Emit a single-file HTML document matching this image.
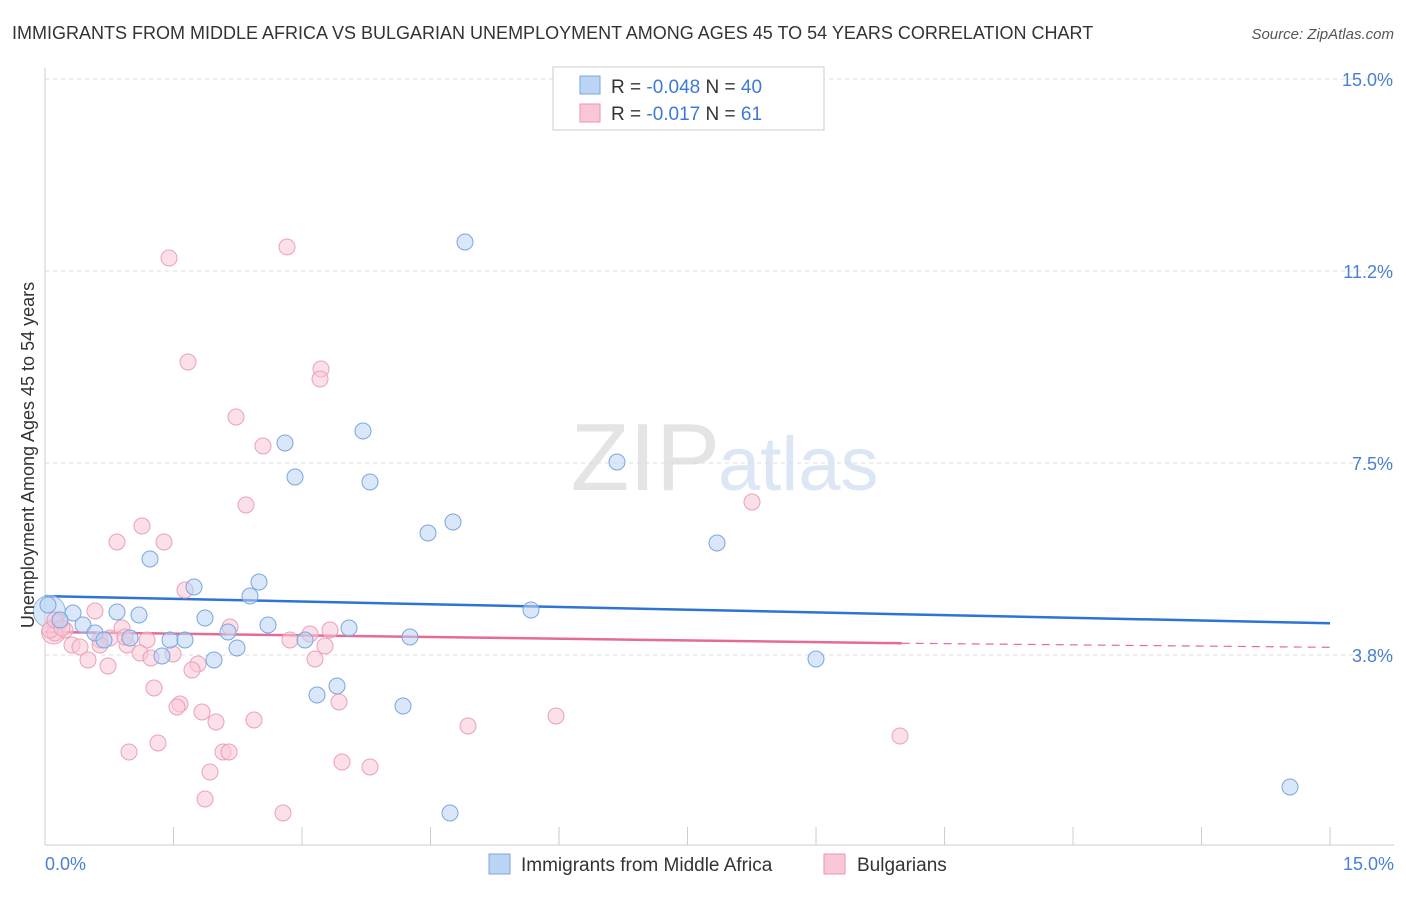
<!DOCTYPE html>
<html><head><meta charset="utf-8"><style>
body{margin:0;background:#fff;font-family:"Liberation Sans",sans-serif}
svg text{font-family:"Liberation Sans",sans-serif}
</style></head><body>
<svg id="chart" width="1406" height="892" viewBox="0 0 1406 892" xmlns="http://www.w3.org/2000/svg">
<text x="12" y="39" font-size="18" fill="#333">IMMIGRANTS FROM MIDDLE AFRICA VS BULGARIAN UNEMPLOYMENT AMONG AGES 45 TO 54 YEARS CORRELATION CHART</text>
<text x="1394" y="39" font-size="15" fill="#555" font-style="italic" text-anchor="end">Source: ZipAtlas.com</text>
<text x="720" y="490" font-size="96" fill="#e4e4e4" text-anchor="end" font-family="Liberation Serif">ZIP</text>
<text x="718" y="490" font-size="76" fill="#dce6f4">atlas</text>
<g id="grid"></g><g id="axes"></g><g id="trend"></g><g id="pts"></g>
<text transform="translate(34,455) rotate(-90)" font-size="18" fill="#333" text-anchor="middle">Unemployment Among Ages 45 to 54 years</text>
<text x="45" y="870" font-size="18" fill="#4a7fd4">0.0%</text>
<text x="1394" y="870" font-size="18" fill="#4a7fd4" text-anchor="end">15.0%</text>
<g>
<rect x="553" y="67" width="271" height="63" fill="#fff" stroke="#ccc"/>
<rect x="580" y="76" width="20" height="18" fill="#bcd4f4" stroke="#7aa6e0"/>
<rect x="580" y="104" width="20" height="18" fill="#f9c6d6" stroke="#eb95b2"/>
<text x="611" y="93" font-size="19" fill="#333">R = <tspan fill="#3f78d8">-0.048</tspan>   N = <tspan fill="#3f78d8">40</tspan></text>
<text x="611" y="120" font-size="19" fill="#333">R =  <tspan fill="#3f78d8">-0.017</tspan>   N =  <tspan fill="#3f78d8">61</tspan></text>
</g>
<g>
<rect x="489" y="854" width="21" height="20" fill="#bcd4f4" stroke="#7aa6e0"/>
<text x="521" y="871" font-size="19" fill="#333">Immigrants from Middle Africa</text>
<rect x="824" y="854" width="21" height="20" fill="#f9c6d6" stroke="#eb95b2"/>
<text x="857" y="871" font-size="19" fill="#333">Bulgarians</text>
</g>
</svg>
<script>
const yTicks=[3.75,7.5,11.25,15];
const yTickLabels=["3.8%","7.5%","11.2%","15.0%"];
const xTicks=[0,1.5,3,4.5,6,7.5,9,10.5,12,13.5,15];
const bluePx=[[465,242],[617,462],[363,431],[285,443],[295,477],[370,482],[428,533],[453,522],[717,543],[150,559],[194,587],[259,582],[250,596],[531,610],[205,618],[268,625],[117,612],[139,615],[73,613],[60,620],[83,625],[95,633],[104,640],[130,638],[170,640],[185,640],[228,632],[237,648],[349,628],[305,640],[410,637],[162,656],[214,660],[816,659],[337,686],[317,695],[403,706],[450,813],[1290,787],[48,605]];
const pinkPx=[[169,258],[287,247],[188,362],[321,369],[320,379],[236,417],[263,446],[246,505],[752,502],[142,526],[117,542],[164,542],[185,590],[95,611],[122,628],[60,622],[65,630],[55,633],[72,645],[80,647],[100,640],[110,638],[88,660],[108,666],[127,645],[147,640],[140,653],[151,658],[173,654],[198,664],[192,670],[310,634],[330,630],[325,646],[315,659],[154,688],[180,704],[177,707],[202,712],[216,722],[254,720],[339,702],[468,726],[556,716],[900,736],[129,752],[158,743],[223,752],[229,752],[210,772],[342,762],[370,767],[205,799],[283,813],[50,630],[55,620],[230,627],[125,637],[62,628],[290,640],[100,645]];
// convert reading to data units
const X0=45,XS=85.67,Y0=847,YS=51.2;
const blueX=bluePx.map(p=>(p[0]-X0)/XS), blueY=bluePx.map(p=>(Y0-p[1])/YS);
const pinkX=pinkPx.map(p=>(p[0]-X0)/XS), pinkY=pinkPx.map(p=>(Y0-p[1])/YS);
const blueTrend=[[0,4.9],[15,4.37]];
const pinkTrend=[[0,4.2],[10,3.98],[15,3.9]];
function sx(v){return X0+v*XS}
function sy(v){return Y0-v*YS}
const NS="http://www.w3.org/2000/svg";
function mk(t,a,parent){const e=document.createElementNS(NS,t);for(const k in a)e.setAttribute(k,a[k]);document.getElementById(parent).appendChild(e);return e;}
yTicks.forEach((v,i)=>{
 const l=mk('line',{x1:45,x2:1394,y1:sy(v),y2:sy(v),stroke:'#ddd','stroke-dasharray':'4,4'},'grid');
 
 
 const t=mk('text',{x:1393,y:sy(v)+7,'font-size':18,fill:'#4a7fd4','text-anchor':'end'},'grid');
 t.textContent=yTickLabels[i];
 
 
});
const ax=mk('line',{x1:45,x2:1394,y1:845,y2:845,stroke:'#ccc'},'axes');


const ay=mk('line',{x1:45,x2:45,y1:68,y2:845,stroke:'#ccc'},'axes');


xTicks.forEach(v=>{
 const l=mk('line',{x1:sx(v),x2:sx(v),y1:827,y2:845,stroke:'#ccc'},'axes');
 
 
});
const bt=mk('line',{x1:sx(blueTrend[0][0]),y1:sy(blueTrend[0][1]),x2:sx(blueTrend[1][0]),y2:sy(blueTrend[1][1]),stroke:'#2f73d4','stroke-width':2.5},'trend');


const pt=mk('line',{x1:sx(pinkTrend[0][0]),y1:sy(pinkTrend[0][1]),x2:sx(pinkTrend[1][0]),y2:sy(pinkTrend[1][1]),stroke:'#e66a96','stroke-width':2.5},'trend');


const pd=mk('line',{x1:sx(pinkTrend[1][0]),y1:sy(pinkTrend[1][1]),x2:sx(pinkTrend[2][0]),y2:sy(pinkTrend[2][1]),stroke:'#e66a96','stroke-width':1.2,'stroke-dasharray':'8,6'},'trend');


const big1=mk('circle',{cx:sx(0.05),cy:sy(4.6),r:16,fill:'rgba(188,212,244,0.55)',stroke:'#8fb4e6'},'pts');


const big2=mk('circle',{cx:sx(0.1),cy:sy(4.2),r:12,fill:'rgba(249,198,214,0.55)',stroke:'#eba0ba'},'pts');


pinkX.forEach((x,i)=>{
 const c=mk('circle',{cx:sx(x),cy:sy(pinkY[i]),r:8,fill:'rgba(249,198,214,0.55)',stroke:'#eba0ba','stroke-width':1},'pts');
 
 
});
blueX.forEach((x,i)=>{
 const c=mk('circle',{cx:sx(x),cy:sy(blueY[i]),r:8,fill:'rgba(188,212,244,0.55)',stroke:'#7aa6e0','stroke-width':1},'pts');
 
 
});
</script>
</body></html>
